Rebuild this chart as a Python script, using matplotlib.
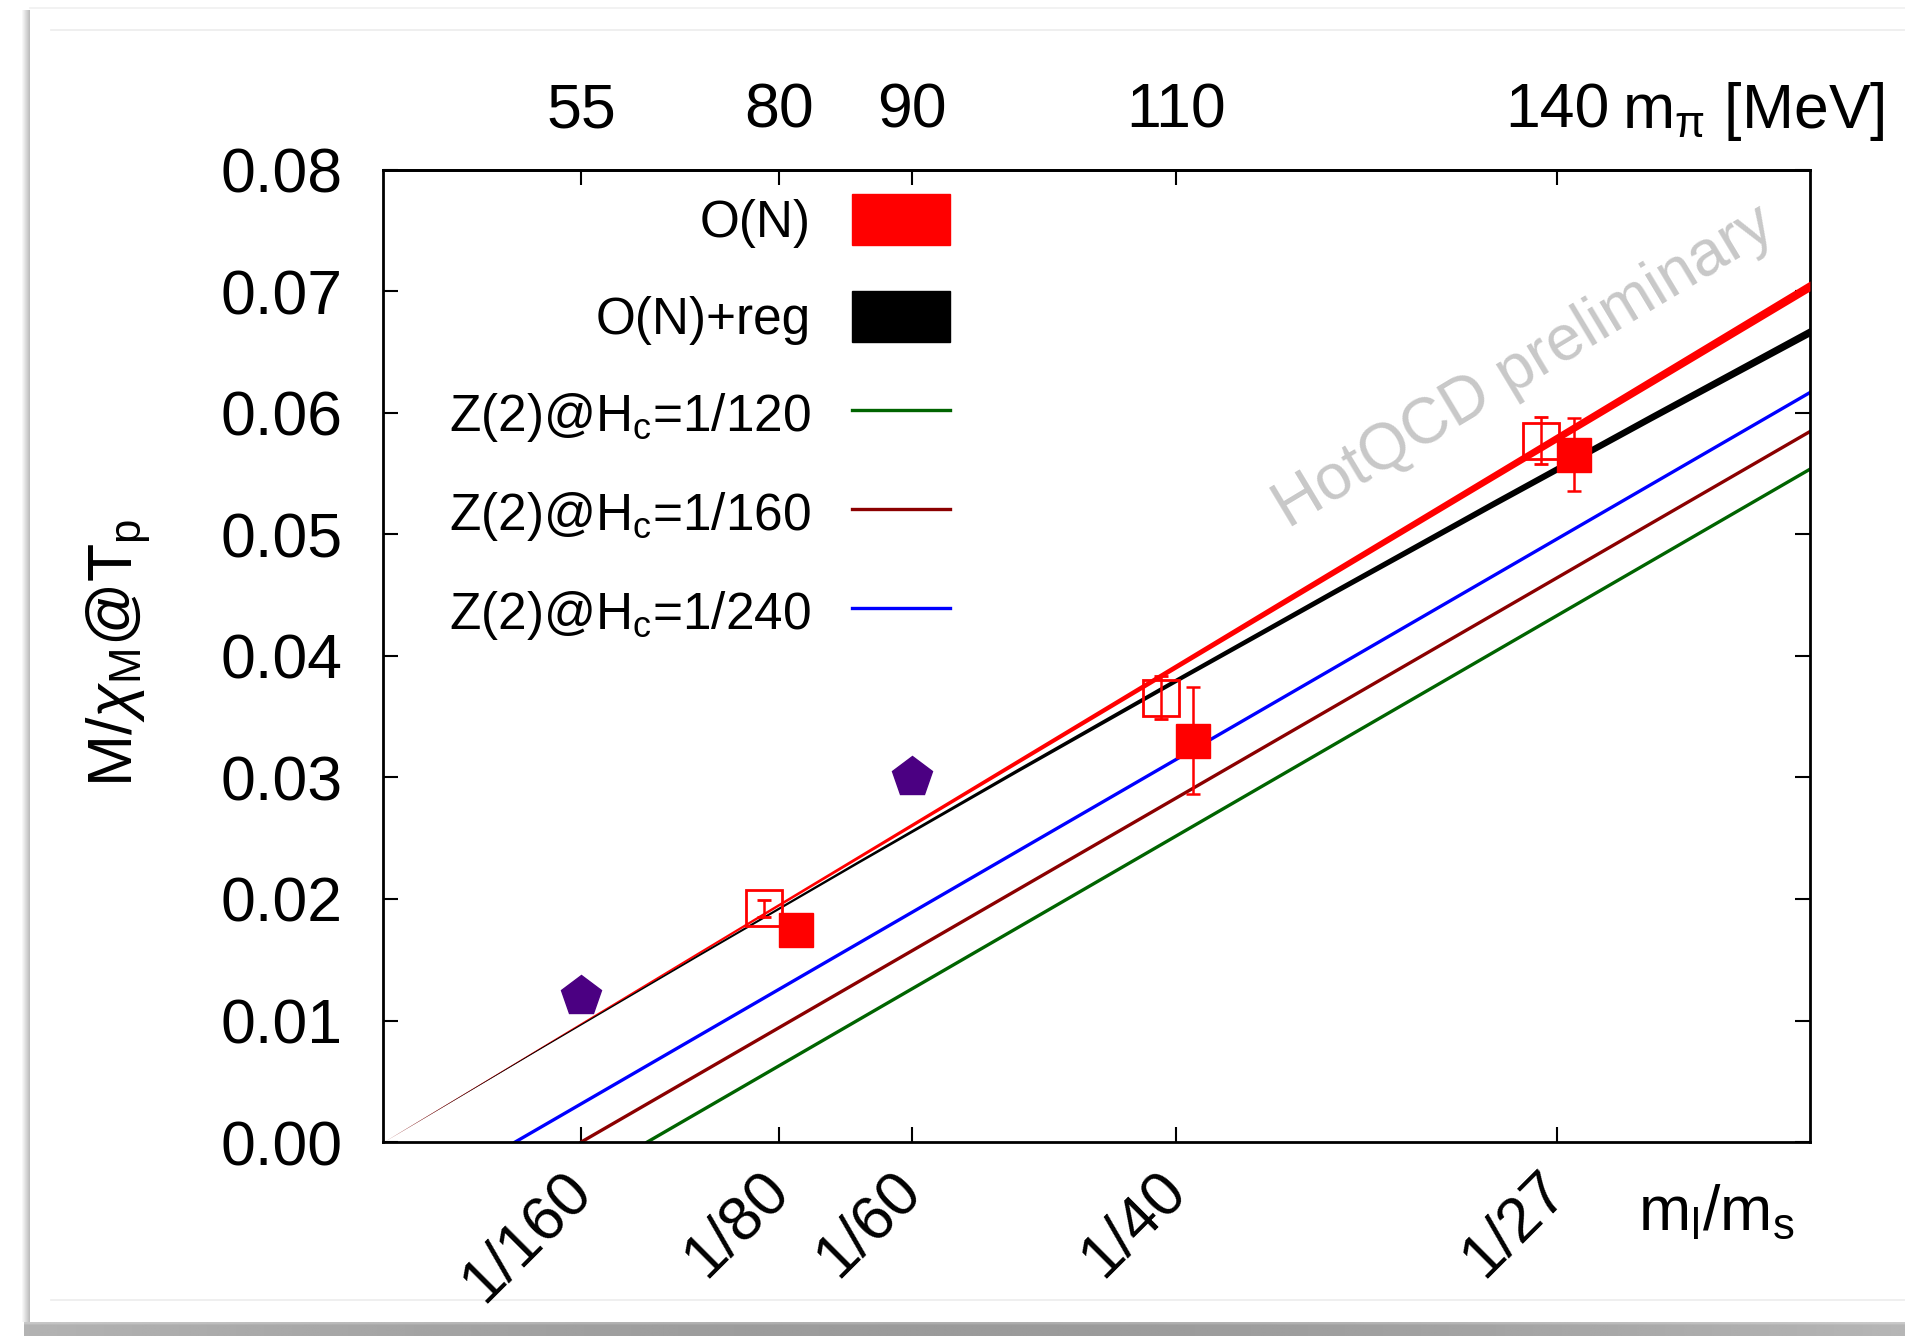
import numpy as np
import matplotlib
matplotlib.use('Agg')
import matplotlib.pyplot as plt
import matplotlib.transforms as mtransforms
from matplotlib.patches import Patch

plt.rcParams['font.family'] = ['Liberation Sans', 'DejaVu Sans']
plt.rcParams['mathtext.fontset'] = 'custom'
plt.rcParams['mathtext.rm'] = 'Liberation Sans'
plt.rcParams['mathtext.it'] = 'Liberation Sans:italic'

# m_l/m_s tick positions and the matching pion masses
ratio_ticks = [1/160, 1/80, 1/60, 1/40, 1/27]
ratio_labels = ['1/160', '1/80', '1/60', '1/40', '1/27']
mpi_labels = ['55', '80', '90', '110', '140']

# fit curves with their band half widths
fit_x = [0.0, 0.005, 0.01, 0.015, 0.02, 0.025, 0.03, 0.035, 0.04, 0.045]
on_y = [0.0, 0.00783, 0.01566, 0.02348, 0.03131, 0.03914, 0.04697, 0.05480, 0.06262, 0.07045]
on_err = [0.0, 0.00005, 0.00010, 0.00014, 0.00019, 0.00023, 0.00028, 0.00032, 0.00037, 0.00041]
onreg_y = [0.0, 0.00779, 0.01548, 0.02308, 0.03059, 0.03800, 0.04531, 0.05253, 0.05966, 0.06669]
onreg_err = [0.0, 0.00005, 0.00009, 0.00012, 0.00016, 0.00020, 0.00024, 0.00028, 0.00031, 0.00035]

# Z(2) lines: start at H_c, value at right edge
z2_hc = [1/120, 1/160, 1/240]
z2_end = [0.05537, 0.05847, 0.06168]
z2_labels = ['Z(2)@H$_\\mathregular{c}$=1/120', 'Z(2)@H$_\\mathregular{c}$=1/160',
             'Z(2)@H$_\\mathregular{c}$=1/240']
z2_colors = ['#006400', '#8b0000', '#0000ff']

# lattice data
full_x = [0.01302, 0.02553, 0.03756]
full_y = [0.01741, 0.03302, 0.05655]
full_err = [0.0006, 0.0044, 0.0030]
open_x = [0.01201, 0.02452, 0.03651]
open_y = [0.01925, 0.03658, 0.05773]
open_err = [0.0007, 0.0018, 0.0019]
pent_x = [1/160, 1/60]
pent_y = [0.0120, 0.0300]

xmax = 0.045

fig = plt.figure(figsize=(19.05, 13.36), dpi=100)

# card background with shadow
bg = fig.add_axes([0, 0, 1, 1], zorder=-5)
bg.set_xlim(0, 1905)
bg.set_ylim(1336, 0)
bg.axis('off')
left_sh = np.linspace(1.0, 0.74, 9).reshape(1, -1)
bg.imshow(left_sh, cmap='gray', vmin=0, vmax=1, extent=[21, 30, 1322, 10], aspect='auto')
xs = np.linspace(0, 1, 200)
bot_sh = 0.70 - 0.12 * np.sin(np.pi * xs * 0.9) + 0.05 * xs
bot_sh = np.tile(bot_sh, (6, 1))
bot_sh[0] = bot_sh[0] + 0.08
bg.imshow(bot_sh, cmap='gray', vmin=0, vmax=1, extent=[24, 1905, 1336, 1322], aspect='auto')
bg.plot([30, 1905], [8, 8], color='#f0f0f0', lw=1.2)
bg.plot([51, 1905], [30, 30], color='#ececec', lw=1.2)
bg.plot([51, 1905], [1300, 1300], color='#ececec', lw=1.2)

ax = fig.add_axes([0.2011, 0.1452, 0.7490, 0.7276])

on_y = np.array(on_y)
onreg_y = np.array(onreg_y)
ax.fill_between(fit_x, on_y - on_err, on_y + on_err, color='red', lw=0, zorder=3)
ax.fill_between(fit_x, onreg_y - onreg_err, onreg_y + onreg_err, color='black', lw=0, zorder=3)

z2_lines = []
for hc, yend, c, lab in zip(z2_hc, z2_end, z2_colors, z2_labels):
    ln, = ax.plot([hc, xmax], [0, yend], color=c, lw=2.4, label=lab, zorder=2)
    z2_lines.append(ln)

ax.plot(pent_x, pent_y, 'p', color='#4b0082', markersize=30, zorder=5)
ax.errorbar(open_x, open_y, yerr=open_err, fmt='s', color='red', mfc='none', mec='red',
            markersize=26, mew=2, elinewidth=1.8, capsize=5, capthick=1.8, zorder=5)
ax.errorbar(full_x, full_y, yerr=full_err, fmt='s', color='red', markersize=25,
            elinewidth=1.8, capsize=5, capthick=1.8, zorder=6)

ax.set_xlim(0, xmax)
ax.set_ylim(0, 0.08)
ax.set_yticks(np.arange(0, 0.081, 0.01))
ax.set_yticklabels(['%.2f' % v for v in np.arange(0, 0.081, 0.01)])
ax.set_xticks(ratio_ticks)
ax.set_xticklabels(ratio_labels, rotation=45, ha='right', va='top')
ax.tick_params(direction='in', length=11, width=1.5, labelsize=45)
ax.tick_params(axis='y', right=True, pad=29)
ax.tick_params(axis='x', pad=13)
offset = mtransforms.ScaledTranslation(0.21, 0, fig.dpi_scale_trans)
for lab in ax.get_xticklabels():
    lab.set_transform(lab.get_transform() + offset)
for sp in ax.spines.values():
    sp.set_linewidth(2)

top = ax.secondary_xaxis('top')
top.set_xticks(ratio_ticks)
top.set_xticklabels(mpi_labels)
top.tick_params(direction='in', length=11, width=1.5, labelsize=45, pad=21)
top.spines['top'].set_linewidth(2)

fig.text(0.0693, 0.5112, 'M/$\\chi_\\mathregular{M}$@T$_\\mathregular{p}$', fontsize=45,
         rotation=90, rotation_mode='anchor', ha='center', va='baseline')
fig.text(0.8598, 0.0793, 'm$_\\mathregular{l}$/m$_\\mathregular{s}$', fontsize=45,
         ha='left', va='baseline')
fig.text(0.8514, 0.9042, 'm$_\\mathregular{π}$ [MeV]', fontsize=45, ha='left', va='baseline')

ax.text(0.80, 0.797, 'HotQCD preliminary', transform=ax.transAxes, fontsize=46,
        color='#c8c8c8', rotation=31, ha='center', va='center', zorder=1)

handles = [Patch(facecolor='red', edgecolor='red', label='O(N)'),
           Patch(facecolor='black', edgecolor='black', label='O(N)+reg')] + z2_lines
ax.legend(handles=handles, loc='upper right', bbox_to_anchor=(0.397, 0.975), frameon=False,
          markerfirst=False, fontsize=37, handlelength=1.9, handleheight=1.15,
          handletextpad=0.8, labelspacing=0.84, borderpad=0, borderaxespad=0)

fig.savefig('out.png', dpi=100)
